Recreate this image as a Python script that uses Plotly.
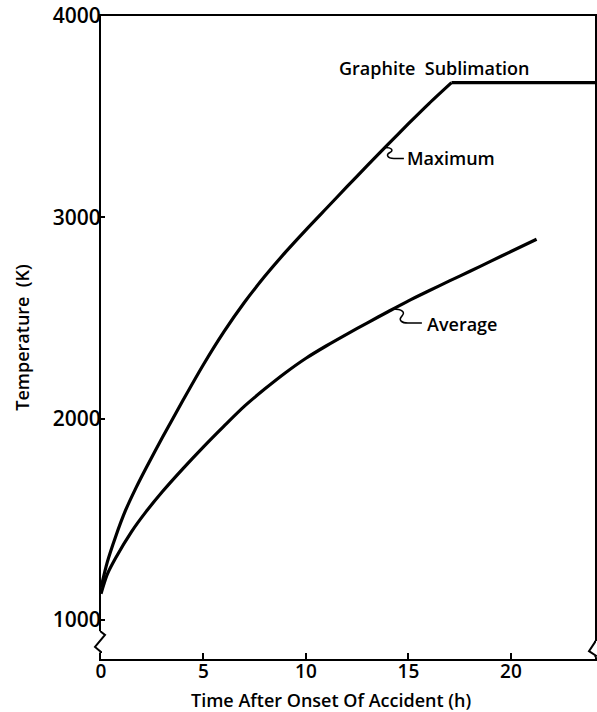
import plotly.graph_objects as go

# Data
max_time = [0, 0.3, 0.7, 1.2, 1.7, 2.2, 3, 4, 5, 6, 7, 8, 9, 10, 11, 12, 13, 14, 15, 16, 17.1]
max_temp = [1160, 1285, 1410, 1545, 1655, 1755, 1907, 2091, 2269, 2432, 2578, 2708, 2827, 2938, 3045, 3152, 3258, 3362, 3465, 3565, 3669]

sublimation_time = [17.1, 24.1]
sublimation_temp = [3669, 3669]

avg_time = [0, 0.3, 0.7, 1.5, 2.2, 3, 4, 5, 6, 7, 8, 9, 10, 11, 12, 13, 14, 15, 16, 17, 18, 19, 20, 21.25]
avg_temp = [1130, 1225, 1305, 1440, 1538, 1638, 1752, 1860, 1963, 2062, 2148, 2228, 2300, 2362, 2420, 2476, 2531, 2585, 2635, 2684, 2732, 2781, 2830, 2891]

x_ticks = [0, 5, 10, 15, 20]
y_ticks = [1000, 2000, 3000, 4000]

FONT = "Open Sans"
X_MAX = 24.1
Y_MIN, Y_MAX = 806, 4000

fig = go.Figure()
line_style = dict(color="black", width=3.2)
fig.add_trace(go.Scatter(x=max_time, y=max_temp, mode="lines", name="Maximum",
                         line=dict(**line_style, shape="spline", smoothing=0.8)))
fig.add_trace(go.Scatter(x=sublimation_time, y=sublimation_temp, mode="lines",
                         name="Graphite Sublimation", line=line_style))
fig.add_trace(go.Scatter(x=avg_time, y=avg_temp, mode="lines", name="Average",
                         line=dict(**line_style, shape="spline", smoothing=0.8)))

ann_font = dict(family=FONT, size=18, color="black", weight=600)
fig.add_annotation(x=11.5, y=3741, text="Graphite  Sublimation", showarrow=False,
                   xanchor="left", yanchor="middle", font=ann_font)
fig.add_annotation(x=14.83, y=3293, text="Maximum", showarrow=False,
                   xanchor="left", yanchor="middle", font=ann_font)
fig.add_annotation(x=15.8, y=2470, text="Average", showarrow=False,
                   xanchor="left", yanchor="middle", font=ann_font)

# x-axis title (placed as in the reference, slightly left of centre)
fig.add_annotation(xref="paper", yref="paper", x=0.4656, y=-0.064,
                   text="Time After Onset Of Accident (h)", showarrow=False,
                   xanchor="center", yanchor="middle",
                   font=dict(family=FONT, size=18, color="black", weight=600))

# leader squiggles (pixel-sized, anchored at the curve)
fig.add_shape(type="path", xref="x", yref="y", xsizemode="pixel", ysizemode="pixel",
              xanchor=13.85, yanchor=3347,
              path="M 0,0 C 7,0 9,-3 5,-5 C 1,-7 2,-11 9,-11 L 19,-11",
              line=dict(color="black", width=1.5))
fig.add_shape(type="path", xref="x", yref="y", xsizemode="pixel", ysizemode="pixel",
              xanchor=14.24, yanchor=2544,
              path="M 0,0 C 9,0 13,-3 9,-7 C 5,-11 9,-14 15,-14 L 29,-14",
              line=dict(color="black", width=1.5))

# axis break marks (paper x so they are not clipped)
fig.add_shape(type="rect", xref="paper", yref="y", xsizemode="pixel", xanchor=0,
              x0=-3, x1=8, y0=838, y1=944, fillcolor="white", line=dict(width=0), layer="above")
fig.add_shape(type="path", xref="paper", yref="y", xsizemode="pixel", xanchor=0,
              path="M 0,945 L 0,941 L 4,926 L -6,866 L 0,841 L 0,836",
              line=dict(color="black", width=2), layer="above")
fig.add_shape(type="rect", xref="paper", yref="y", xsizemode="pixel", xanchor=1,
              x0=-8, x1=3, y0=815, y1=895, fillcolor="white", line=dict(width=0), layer="above")
fig.add_shape(type="path", xref="paper", yref="y", xsizemode="pixel", xanchor=1,
              path="M 0,897 L 0,890 L -6,845 L 1,822 L 0,814",
              line=dict(color="black", width=2), layer="above")

fig.update_layout(
    width=597, height=712,
    margin=dict(l=101, r=2, t=16, b=53),
    plot_bgcolor="white", paper_bgcolor="white",
    showlegend=False,
    font=dict(family=FONT, color="black"),
)
fig.update_xaxes(
    range=[0, X_MAX], tickvals=x_ticks, ticktext=[str(v) for v in x_ticks],
    showgrid=False, zeroline=False, showline=True, linecolor="black", linewidth=2, mirror=True,
    ticks="inside", ticklen=6, tickwidth=1.5, tickcolor="black", automargin=False,
    ticklabelstandoff=-6,
    tickfont=dict(family=FONT, size=19, weight=600),
)
fig.update_yaxes(
    range=[Y_MIN, Y_MAX], tickvals=y_ticks, ticktext=[str(v) for v in y_ticks],
    showgrid=False, zeroline=False, showline=True, linecolor="black", linewidth=2, mirror=True,
    ticks="inside", ticklen=4, tickwidth=1.5, tickcolor="black", automargin=False,
    ticklabelstandoff=-6,
    tickfont=dict(family=FONT, size=21, weight=600),
    title=dict(text="Temperature  (K)", font=dict(family=FONT, size=18, weight=600), standoff=18),
)

fig.write_html(
    "out.html",
    config={"displayModeBar": False},
    post_script="document.body.style.margin='0';document.body.style.padding='0';",
)
